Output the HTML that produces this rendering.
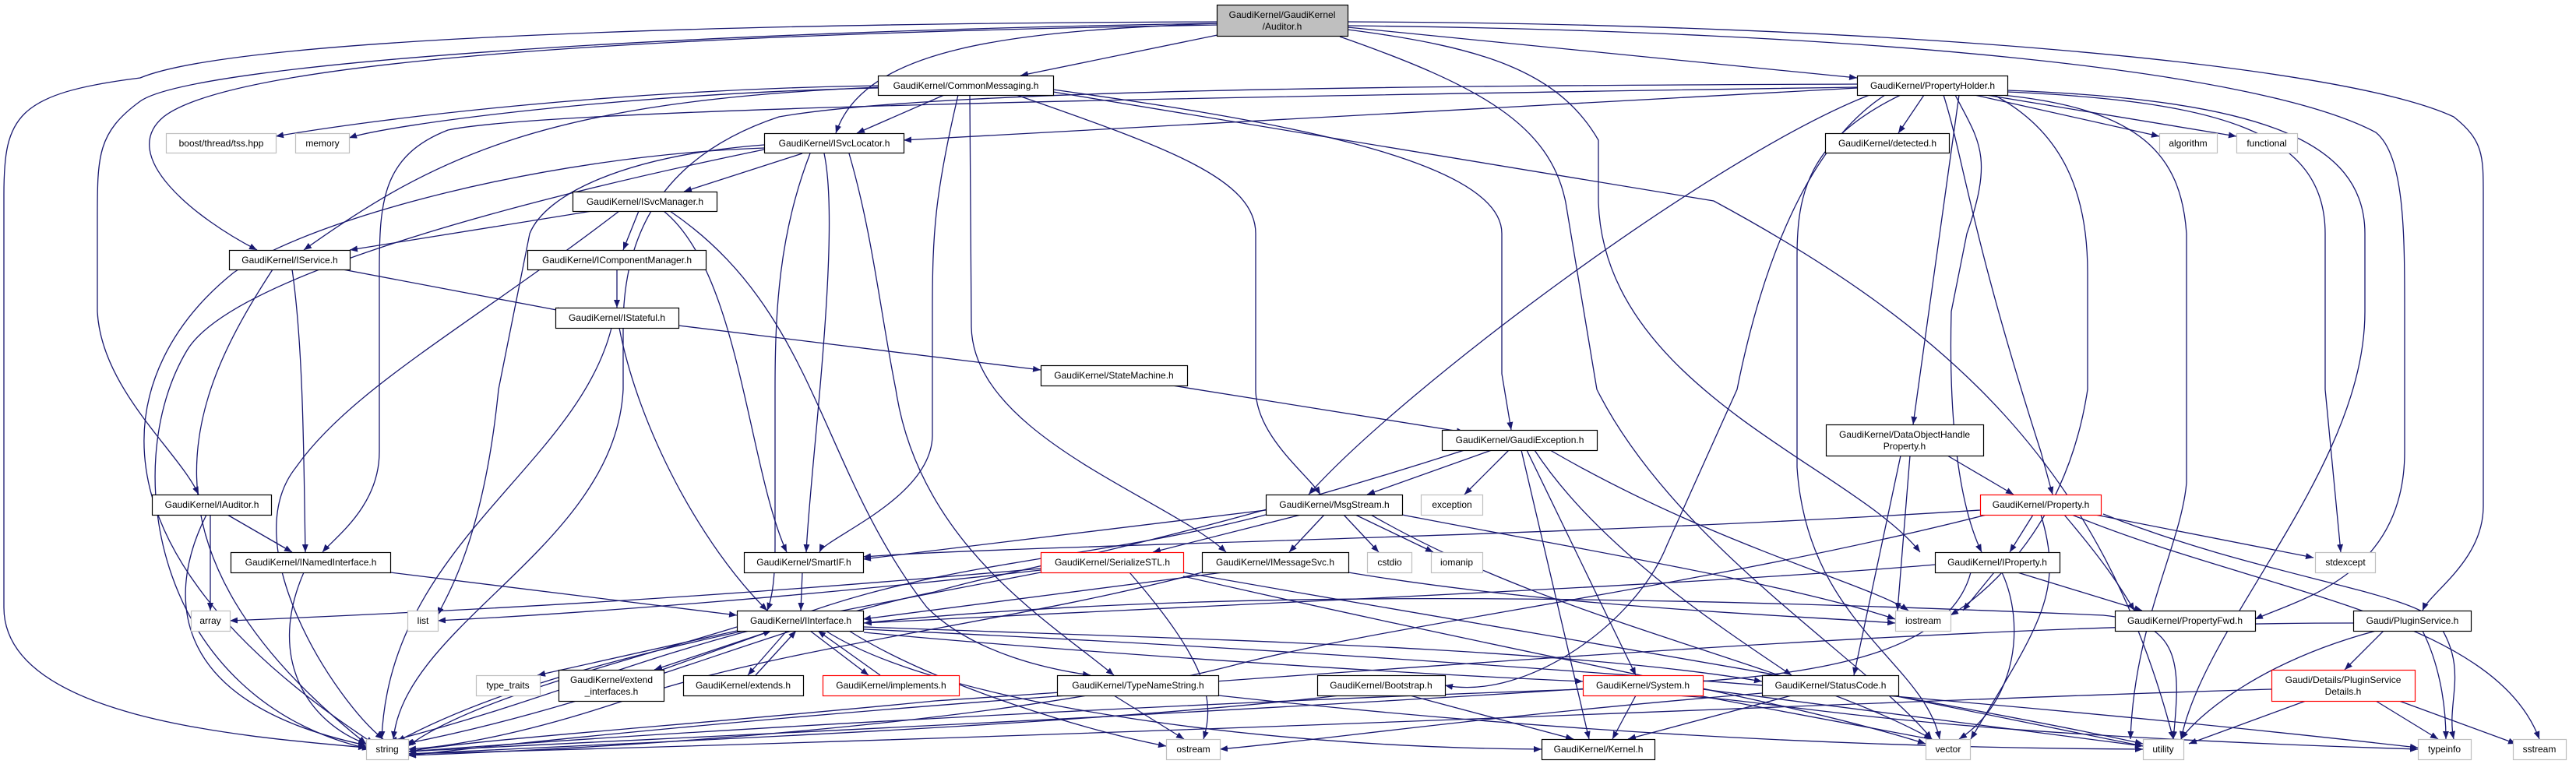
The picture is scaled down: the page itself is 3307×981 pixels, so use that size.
<!DOCTYPE html>
<html><head><meta charset="utf-8"><style>
html,body{margin:0;padding:0;background:#fff;width:3307px;height:981px;overflow:hidden}
svg{display:block}
.e{fill:none;stroke:#191970;stroke-width:1.3;marker-end:url(#a)}
.n rect{fill:#fff;stroke:#000;stroke-width:1.2}
.g rect{fill:#fff;stroke:#bfbfbf;stroke-width:1.2}
.r rect{fill:#fff;stroke:#ff0000;stroke-width:1.2}
text{font-family:"Liberation Sans",sans-serif;font-size:12px;fill:#000;text-anchor:middle}
</style></head><body>
<svg width="3307" height="981" viewBox="0 0 3307 981" xmlns="http://www.w3.org/2000/svg">
<defs><marker id="a" viewBox="0 0 10 8" refX="10" refY="4" markerWidth="10" markerHeight="8" markerUnits="userSpaceOnUse" orient="auto"><path d="M0,0L10,4L0,8z" fill="#191970"/></marker></defs>
<g>
<path class="e" d="M1563,45 L1310,97"/>
<path class="e" d="M1563,30 C1300,40 1110,60 1073,171"/>
<path class="e" d="M1563,28 C900,30 300,50 180,100 C20,120 5,150 5,250 L5,780 C5,920 300,945 470,960"/>
<path class="e" d="M1563,32 C800,45 300,80 210,150 C150,200 250,280 330,321"/>
<path class="e" d="M1563,30 C900,40 250,80 180,130 C125,170 125,200 125,280 L125,400 C130,500 230,580 255,635"/>
<path class="e" d="M1730,35 L2384,100"/>
<path class="e" d="M1730,28 C2400,30 3000,80 3150,150 C3188,180 3188,200 3188,250 L3188,650 C3188,720 3120,760 3110,784"/>
<path class="e" d="M1730,33 C2400,40 2900,90 3050,170 C3087,200 3087,300 3087,400 L3087,580 C3087,740 2950,770 2895,795"/>
<path class="e" d="M1730,38 C1900,60 2000,90 2052,180 L2052,260 C2060,500 2380,600 2465,709"/>
<path class="e" d="M1720,47 C1900,110 1990,160 2010,260 L2050,500 C2150,700 2400,850 2480,949"/>
<path class="e" d="M1212,122 L1100,171"/>
<path class="e" d="M1127,110 C800,115 500,150 354,175"/>
<path class="e" d="M1127,113 C800,120 500,160 448,177"/>
<path class="e" d="M1127,112 C700,130 560,200 390,321"/>
<path class="e" d="M1230,122 C1200,250 1197,300 1197,400 L1197,560 C1195,640 1060,690 1052,709"/>
<path class="e" d="M1245,122 L1247,420 C1250,560 1500,640 1574,709"/>
<path class="e" d="M1305,122 C1500,190 1612,230 1612,300 L1612,500 C1612,560 1680,610 1695,635"/>
<path class="e" d="M1352,115 C1600,150 1928,200 1928,300 L1928,480 L1940,552"/>
<path class="e" d="M1352,118 L2200,258 C2500,420 2700,600 2790,949"/>
<path class="e" d="M2384,112 C1500,125 700,140 575,167 C490,200 487,260 487,350 L487,580 C487,650 430,690 414,709"/>
<path class="e" d="M2384,113 L1160,180"/>
<path class="e" d="M2384,108 C1800,110 1200,115 1000,150 C850,200 800,300 800,420 L800,500 C790,700 520,800 505,949"/>
<path class="e" d="M2470,122 L2437,171"/>
<path class="e" d="M2535,122 L2772,175"/>
<path class="e" d="M2550,122 L2871,175"/>
<path class="e" d="M2400,122 C2200,200 1800,500 1680,635"/>
<path class="e" d="M2420,122 C2300,200 2250,400 2230,500 L2140,700 C2100,800 1960,900 1855,880"/>
<path class="e" d="M2440,122 C2320,180 2307,250 2307,330 L2307,600 C2320,800 2470,850 2490,949"/>
<path class="e" d="M2495,122 C2520,200 2530,300 2620,580 L2635,635"/>
<path class="e" d="M2515,122 L2456,545"/>
<path class="e" d="M2510,122 C2540,180 2560,200 2525,300 L2505,400 C2500,600 2530,680 2544,709"/>
<path class="e" d="M2560,122 C2650,170 2680,250 2680,350 L2680,500 C2650,700 2520,780 2504,790"/>
<path class="e" d="M2577,118 C2850,130 2985,170 2985,300 L2985,500 L3005,709"/>
<path class="e" d="M2577,116 C2900,128 3036,180 3036,300 L3036,400 C3036,600 2830,800 2800,949"/>
<path class="e" d="M2570,122 C2750,140 2800,200 2807,300 L2807,620 C2800,700 2740,800 2735,949"/>
<path class="e" d="M1030,197 L878,246"/>
<path class="e" d="M981,190 C700,200 400,280 300,350 C150,470 90,700 480,955"/>
<path class="e" d="M981,186 C800,200 700,250 680,300 L640,500 C620,700 570,770 562,790"/>
<path class="e" d="M1040,197 C1000,300 995,400 995,500 L995,700 C995,750 990,770 985,784"/>
<path class="e" d="M1058,197 C1080,300 1040,600 1035,709"/>
<path class="e" d="M1090,197 C1120,300 1130,400 1150,500 C1180,700 1350,800 1430,867"/>
<path class="e" d="M981,192 C700,250 300,350 240,450 C150,600 200,900 475,962"/>
<path class="e" d="M760,271 L449,321"/>
<path class="e" d="M820,271 L800,321"/>
<path class="e" d="M795,271 C600,420 450,500 380,600 C300,700 430,900 492,949"/>
<path class="e" d="M852,271 C950,350 960,600 1010,709"/>
<path class="e" d="M860,271 C1050,400 1050,600 1190,780 C1250,840 1350,860 1400,867"/>
<path class="e" d="M792,346 L792,395"/>
<path class="e" d="M440,346 L725,400"/>
<path class="e" d="M375,346 C390,450 390,600 392,709"/>
<path class="e" d="M350,346 C250,500 150,700 470,955"/>
<path class="e" d="M871,418 L1336,475"/>
<path class="e" d="M795,421 C820,550 900,700 985,784"/>
<path class="e" d="M785,421 C740,600 500,700 490,949"/>
<path class="e" d="M1505,495 L1880,555"/>
<path class="e" d="M1915,578 L1755,635"/>
<path class="e" d="M1937,578 L1880,635"/>
<path class="e" d="M1880,578 C1500,700 1300,730 1200,760 C1000,800 800,900 520,955"/>
<path class="e" d="M1953,578 L2040,949"/>
<path class="e" d="M1960,578 L2100,867"/>
<path class="e" d="M1970,578 C2050,700 2200,800 2300,867"/>
<path class="e" d="M1990,578 C2200,700 2400,750 2450,784"/>
<path class="e" d="M1670,661 L1480,709"/>
<path class="e" d="M1700,661 L1655,709"/>
<path class="e" d="M1725,661 L1770,709"/>
<path class="e" d="M1740,661 L1840,709"/>
<path class="e" d="M1625,661 C1400,720 1200,720 1000,800 C800,850 700,900 500,952"/>
<path class="e" d="M1800,661 C2000,700 2300,750 2433,795"/>
<path class="e" d="M1760,661 C2000,800 2300,850 2480,949"/>
<path class="e" d="M1625,655 L1108,718"/>
<path class="e" d="M1450,735 C1550,850 1560,900 1545,949"/>
<path class="e" d="M1336,730 C1000,760 700,780 295,797"/>
<path class="e" d="M1336,732 C1000,770 700,790 562,797"/>
<path class="e" d="M1519,740 C2000,850 2300,900 2472,955"/>
<path class="e" d="M1336,735 C1000,800 700,850 510,952"/>
<path class="e" d="M1519,735 C2000,820 2500,900 2751,955"/>
<path class="e" d="M1570,735 L1108,795"/>
<path class="e" d="M1731,735 C2000,780 2300,790 2433,800"/>
<path class="e" d="M1543,735 C1300,800 1000,830 800,900 C650,950 560,960 524,962"/>
<path class="e" d="M1030,735 L1028,784"/>
<path class="e" d="M501,735 L946,790"/>
<path class="e" d="M292,661 L375,709"/>
<path class="e" d="M270,661 L270,784"/>
<path class="e" d="M265,661 C220,750 200,900 470,957"/>
<path class="e" d="M390,735 C340,850 400,930 470,955"/>
<path class="e" d="M946,810 L690,867"/>
<path class="e" d="M990,810 L840,860"/>
<path class="e" d="M850,860 L990,810"/>
<path class="e" d="M1010,810 L960,867"/>
<path class="e" d="M970,867 L1022,810"/>
<path class="e" d="M1040,810 L1115,867"/>
<path class="e" d="M1130,867 L1050,810"/>
<path class="e" d="M1109,812 C1300,830 1700,860 2032,875"/>
<path class="e" d="M1109,805 C1500,820 2000,830 2262,875"/>
<path class="e" d="M1109,808 C1600,830 2400,880 3104,960"/>
<path class="e" d="M1090,810 C1200,880 1400,940 1497,958"/>
<path class="e" d="M1060,810 C1200,900 1600,960 1979,962"/>
<path class="e" d="M946,805 C800,850 600,900 524,958"/>
<path class="e" d="M1109,800 C1500,760 2000,760 2700,790 C2800,800 2800,850 2790,949"/>
<path class="e" d="M2032,885 C1600,900 1000,930 524,965"/>
<path class="e" d="M2100,893 L2070,949"/>
<path class="e" d="M2180,893 L2510,955"/>
<path class="e" d="M2186,885 L2751,958"/>
<path class="e" d="M2150,893 C2300,900 2400,940 3104,962"/>
<path class="e" d="M1720,893 C1400,930 900,950 524,968"/>
<path class="e" d="M1810,893 L2020,949"/>
<path class="e" d="M1370,893 C1000,920 700,950 524,970"/>
<path class="e" d="M1430,893 L1520,949"/>
<path class="e" d="M1564,893 C1900,930 2300,960 2751,962"/>
<path class="e" d="M2300,893 L2090,949"/>
<path class="e" d="M2262,890 C1900,920 1700,950 1566,962"/>
<path class="e" d="M2430,893 L2751,958"/>
<path class="e" d="M2500,585 L2585,635"/>
<path class="e" d="M2452,585 L2436,784"/>
<path class="e" d="M2440,585 L2380,867"/>
<path class="e" d="M2610,661 L2580,709"/>
<path class="e" d="M2650,661 C2700,720 2720,750 2740,784"/>
<path class="e" d="M2690,661 L2970,716"/>
<path class="e" d="M2542,655 C2000,690 1300,700 1108,715"/>
<path class="e" d="M2550,661 C2200,750 1800,800 1600,850 C1300,930 800,960 524,970"/>
<path class="e" d="M2700,660 C2900,740 3100,760 3130,800 C3170,860 3140,900 3150,949"/>
<path class="e" d="M2620,661 C2650,760 2620,800 2530,949"/>
<path class="e" d="M2560,735 L2520,784"/>
<path class="e" d="M2590,735 L2750,784"/>
<path class="e" d="M2570,735 C2600,800 2590,900 2515,949"/>
<path class="e" d="M2484,725 C2200,750 1500,780 1109,800"/>
<path class="e" d="M2530,735 C2500,850 2300,870 2100,880 C1500,920 800,950 524,965"/>
<path class="e" d="M3060,810 L3010,860"/>
<path class="e" d="M3050,810 C2900,850 2820,920 2800,949"/>
<path class="e" d="M3110,810 C3130,850 3140,900 3140,949"/>
<path class="e" d="M3021,800 C2500,800 1800,860 1200,900 C900,930 600,950 524,965"/>
<path class="e" d="M2960,900 L2810,955"/>
<path class="e" d="M3050,900 L3130,949"/>
<path class="e" d="M3080,900 L3230,955"/>
<path class="e" d="M2916,885 C2400,900 1600,940 524,968"/>
<path class="e" d="M2660,661 C2900,760 3200,790 3260,949"/>
</g>
<g class="n"><rect x="1562.5" y="6.5" width="168" height="40" style="fill:#bfbfbf"/><text x="1646" y="23">GaudiKernel/GaudiKernel</text><text x="1646" y="38">/Auditor.h</text></g>
<g class="n"><rect x="1127.5" y="97.5" width="225" height="25"/><text x="1240" y="114">GaudiKernel/CommonMessaging.h</text></g>
<g class="n"><rect x="2384.5" y="97.5" width="193" height="25"/><text x="2481" y="114">GaudiKernel/PropertyHolder.h</text></g>
<g class="g"><rect x="213.5" y="171.5" width="141" height="25"/><text x="284" y="188">boost/thread/tss.hpp</text></g>
<g class="g"><rect x="379.5" y="171.5" width="69" height="25"/><text x="414" y="188">memory</text></g>
<g class="n"><rect x="981.5" y="171.5" width="179" height="25"/><text x="1071" y="188">GaudiKernel/ISvcLocator.h</text></g>
<g class="n"><rect x="2343.5" y="171.5" width="159" height="25"/><text x="2423" y="188">GaudiKernel/detected.h</text></g>
<g class="g"><rect x="2772.5" y="171.5" width="74" height="25"/><text x="2809" y="188">algorithm</text></g>
<g class="g"><rect x="2871.5" y="171.5" width="78" height="25"/><text x="2910" y="188">functional</text></g>
<g class="n"><rect x="735.5" y="246.5" width="185" height="25"/><text x="828" y="263">GaudiKernel/ISvcManager.h</text></g>
<g class="n"><rect x="294.5" y="321.5" width="155" height="25"/><text x="372" y="338">GaudiKernel/IService.h</text></g>
<g class="n"><rect x="677.5" y="321.5" width="229" height="25"/><text x="792" y="338">GaudiKernel/IComponentManager.h</text></g>
<g class="n"><rect x="713.5" y="395.5" width="158" height="26"/><text x="792" y="412">GaudiKernel/IStateful.h</text></g>
<g class="n"><rect x="1336.5" y="469.5" width="188" height="26"/><text x="1430" y="486">GaudiKernel/StateMachine.h</text></g>
<g class="n"><rect x="2344.5" y="545.5" width="202" height="40"/><text x="2445" y="562">GaudiKernel/DataObjectHandle</text><text x="2445" y="577">Property.h</text></g>
<g class="n"><rect x="1851.5" y="552.5" width="199" height="26"/><text x="1951" y="569">GaudiKernel/GaudiException.h</text></g>
<g class="n"><rect x="195.5" y="635.5" width="153" height="26"/><text x="272" y="652">GaudiKernel/IAuditor.h</text></g>
<g class="n"><rect x="1625.5" y="635.5" width="175" height="26"/><text x="1713" y="652">GaudiKernel/MsgStream.h</text></g>
<g class="g"><rect x="1824.5" y="635.5" width="79" height="26"/><text x="1864" y="652">exception</text></g>
<g class="r"><rect x="2542.5" y="635.5" width="155" height="26"/><text x="2620" y="652">GaudiKernel/Property.h</text></g>
<g class="n"><rect x="296.5" y="709.5" width="205" height="26"/><text x="399" y="726">GaudiKernel/INamedInterface.h</text></g>
<g class="n"><rect x="955.5" y="709.5" width="153" height="26"/><text x="1032" y="726">GaudiKernel/SmartIF.h</text></g>
<g class="r"><rect x="1336.5" y="709.5" width="183" height="26"/><text x="1428" y="726">GaudiKernel/SerializeSTL.h</text></g>
<g class="n"><rect x="1543.5" y="709.5" width="188" height="26"/><text x="1637" y="726">GaudiKernel/IMessageSvc.h</text></g>
<g class="g"><rect x="1755.5" y="709.5" width="57" height="26"/><text x="1784" y="726">cstdio</text></g>
<g class="g"><rect x="1837.5" y="709.5" width="66" height="26"/><text x="1870" y="726">iomanip</text></g>
<g class="n"><rect x="2484.5" y="709.5" width="160" height="26"/><text x="2564" y="726">GaudiKernel/IProperty.h</text></g>
<g class="g"><rect x="2972.5" y="709.5" width="77" height="26"/><text x="3011" y="726">stdexcept</text></g>
<g class="g"><rect x="245.5" y="784.5" width="50" height="26"/><text x="270" y="801">array</text></g>
<g class="g"><rect x="523.5" y="784.5" width="39" height="26"/><text x="543" y="801">list</text></g>
<g class="n"><rect x="946.5" y="784.5" width="162" height="26"/><text x="1028" y="801">GaudiKernel/IInterface.h</text></g>
<g class="g"><rect x="2433.5" y="784.5" width="71" height="26"/><text x="2469" y="801">iostream</text></g>
<g class="n"><rect x="2715.5" y="784.5" width="180" height="26"/><text x="2805" y="801">GaudiKernel/PropertyFwd.h</text></g>
<g class="n"><rect x="3021.5" y="784.5" width="151" height="26"/><text x="3097" y="801">Gaudi/PluginService.h</text></g>
<g class="g"><rect x="611.5" y="867.5" width="82" height="26"/><text x="652" y="884">type_traits</text></g>
<g class="n"><rect x="717.5" y="860.5" width="135" height="40"/><text x="785" y="877">GaudiKernel/extend</text><text x="785" y="892">_interfaces.h</text></g>
<g class="n"><rect x="877.5" y="867.5" width="154" height="26"/><text x="954" y="884">GaudiKernel/extends.h</text></g>
<g class="r"><rect x="1056.5" y="867.5" width="175" height="26"/><text x="1144" y="884">GaudiKernel/implements.h</text></g>
<g class="n"><rect x="1357.5" y="867.5" width="207" height="26"/><text x="1461" y="884">GaudiKernel/TypeNameString.h</text></g>
<g class="n"><rect x="1691.5" y="867.5" width="164" height="26"/><text x="1773" y="884">GaudiKernel/Bootstrap.h</text></g>
<g class="r"><rect x="2032.5" y="867.5" width="154" height="26"/><text x="2109" y="884">GaudiKernel/System.h</text></g>
<g class="n"><rect x="2262.5" y="867.5" width="175" height="26"/><text x="2350" y="884">GaudiKernel/StatusCode.h</text></g>
<g class="r"><rect x="2916.5" y="860.5" width="184" height="40"/><text x="3008" y="877">Gaudi/Details/PluginService</text><text x="3008" y="892">Details.h</text></g>
<g class="g"><rect x="470.5" y="949.5" width="54" height="26"/><text x="497" y="966">string</text></g>
<g class="g"><rect x="1497.5" y="949.5" width="69" height="26"/><text x="1532" y="966">ostream</text></g>
<g class="n"><rect x="1979.5" y="949.5" width="145" height="26"/><text x="2052" y="966">GaudiKernel/Kernel.h</text></g>
<g class="g"><rect x="2472.5" y="949.5" width="57" height="26"/><text x="2501" y="966">vector</text></g>
<g class="g"><rect x="2751.5" y="949.5" width="52" height="26"/><text x="2777" y="966">utility</text></g>
<g class="g"><rect x="3104.5" y="949.5" width="68" height="26"/><text x="3138" y="966">typeinfo</text></g>
<g class="g"><rect x="3226.5" y="949.5" width="68" height="26"/><text x="3260" y="966">sstream</text></g>
</svg>
</body></html>
